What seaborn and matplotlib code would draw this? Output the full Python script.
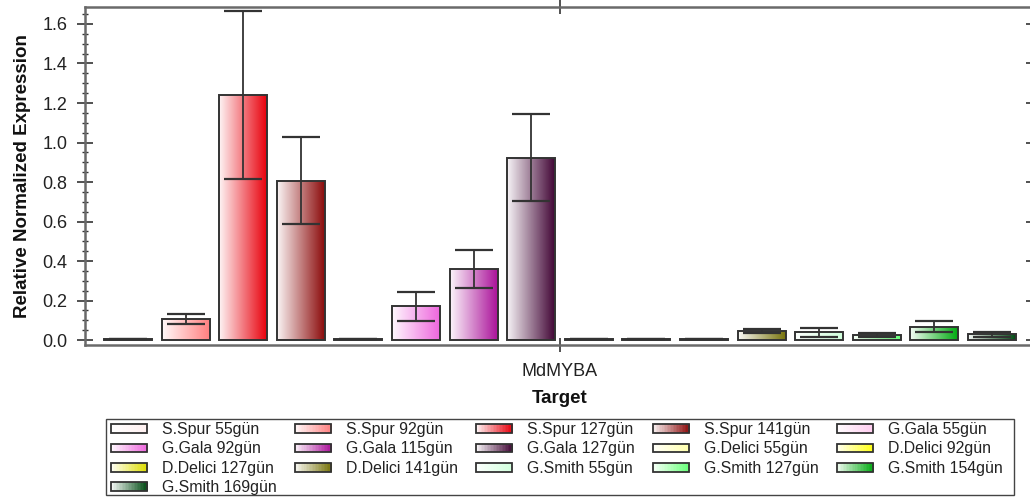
import numpy as np
import pandas as pd
import matplotlib
matplotlib.use("Agg")
import matplotlib.pyplot as plt
import matplotlib.colors as mcolors
from matplotlib.patches import Rectangle, Patch
from matplotlib.legend_handler import HandlerBase
from matplotlib.ticker import MultipleLocator
import seaborn as sns

# ---------------- data ----------------
target = "MdMYBA"
samples = ["S.Spur 55gün", "S.Spur 92gün", "S.Spur 127gün", "S.Spur 141gün",
           "G.Gala 55gün", "G.Gala 92gün", "G.Gala 115gün", "G.Gala 127gün",
           "G.Delici 55gün", "D.Delici 92gün", "D.Delici 127gün", "D.Delici 141gün",
           "G.Smith 55gün", "G.Smith 127gün", "G.Smith 154gün", "G.Smith 169gün"]
values = [0.005, 0.105, 1.240, 0.805,
          0.005, 0.172, 0.358, 0.923,
          0.005, 0.003, 0.005, 0.046,
          0.041, 0.024, 0.067, 0.029]
err_upper = [0.005, 0.132, 1.666, 1.028,
             0.005, 0.243, 0.456, 1.144,
             0.005, 0.003, 0.005, 0.057,
             0.061, 0.037, 0.096, 0.042]
err_lower = [0.005, 0.083, 0.817, 0.587,
             0.005, 0.096, 0.262, 0.702,
             0.005, 0.003, 0.005, 0.034,
             0.017, 0.014, 0.039, 0.015]
colors = ["#fff0f0", "#ff7f7f", "#e8000c", "#8b0a0a",
          "#ffccef", "#ee66dd", "#aa1199", "#420636",
          "#ffffaa", "#ffff10", "#dede00", "#77730a",
          "#d0ffdc", "#66ff77", "#00aa10", "#004a12"]

sns.set_theme(style="white")
plt.rcParams["font.family"] = ["Liberation Sans", "DejaVu Sans"]

fig = plt.figure(figsize=(10.3, 4.97), dpi=100)
ax = fig.add_axes([85 / 1030, (497 - 345) / 497, (1034 - 85) / 1030, (345 - 7) / 497])

df = pd.DataFrame({"Target": [target] * len(samples), "sample": samples, "value": values})
sns.barplot(data=df, x="Target", y="value", hue="sample", hue_order=samples,
            palette=colors, width=0.9, gap=0.167, errorbar=None, legend=False,
            edgecolor="#333333", linewidth=1.4, ax=ax)

XLIM = (-0.464, 0.463)
YLIM = (-0.025, 1.686)

# gradient fill inside each bar
bars = [p for p in ax.patches if isinstance(p, Rectangle)][:len(samples)]
xs = []
for p, c in zip(bars, colors):
    x0, y0 = p.get_x(), p.get_y()
    w, h = p.get_width(), p.get_height()
    xs.append(x0 + w / 2)
    rgb = np.array(mcolors.to_rgb(c))
    t = np.linspace(0.04, 1.0, 256)[:, None]
    grad = (1 - t) * np.ones(3) + t * rgb
    im = ax.imshow(grad[None, :, :], extent=[x0, x0 + w, y0, y0 + h],
                   aspect="auto", interpolation="bilinear", zorder=p.get_zorder() - 0.05)
    im.set_clip_path(p)
    p.set_facecolor("none")

ax.set_xlim(*XLIM)
ax.set_ylim(*YLIM)
ax.set_aspect("auto")

vals = np.array(values)
lo = vals - np.array(err_lower)
hi = np.array(err_upper) - vals
ax.errorbar(xs, vals, yerr=[lo, hi], fmt="none", ecolor="#333333",
            elinewidth=1.3, capsize=13.5, capthick=1.6, zorder=5)

# axes styling
for s in ax.spines.values():
    s.set_color("#6a6a6a")
    s.set_linewidth(1.8)
ax.yaxis.set_major_locator(MultipleLocator(0.2))
ax.yaxis.set_minor_locator(MultipleLocator(0.05))
ax.tick_params(axis="y", which="major", direction="inout", length=11, width=1.2,
               color="#333333", left=True, right=True, labelsize=13, pad=7, labelcolor="#222222")
ax.tick_params(axis="y", which="minor", direction="inout", length=5, width=1.0,
               color="#333333", left=True, right=False)
ax.tick_params(axis="x", which="major", direction="inout", length=10, width=1.2,
               color="#333333", bottom=True, top=True, labelsize=13, pad=8, labelcolor="#222222")
ax.set_yticks(np.arange(0, 1.61, 0.2))
ax.set_yticklabels([f"{v:.1f}" for v in np.arange(0, 1.61, 0.2)])
ax.set_ylabel("Relative Normalized Expression", fontsize=13.5, fontweight="bold",
              color="#111111", labelpad=8)
ax.set_xlabel("Target", fontsize=13.5, fontweight="bold", color="#111111", labelpad=7)
ax.grid(False)


# legend with gradient handles
class GradientHandler(HandlerBase):
    def create_artists(self, legend, orig_handle, xdescent, ydescent, width, height,
                       fontsize, trans):
        rgb = np.array(mcolors.to_rgb(orig_handle.get_facecolor()))
        n = 24
        arts = []
        hh = height * 0.72
        y0 = -ydescent + (height - hh) / 2
        for i in range(n):
            t = 0.04 + 0.96 * (i + 0.5) / n
            col = (1 - t) * np.ones(3) + t * rgb
            r = Rectangle((-xdescent + width * i / n, y0), width / n + 0.3, hh,
                          facecolor=col, edgecolor="none", transform=trans)
            arts.append(r)
        border = Rectangle((-xdescent, y0), width, hh, facecolor="none",
                           edgecolor="#333333", linewidth=1.3, transform=trans)
        arts.append(border)
        return arts


ncol = 5
nrow = int(np.ceil(len(samples) / ncol))
order = [r * ncol + c for c in range(ncol) for r in range(nrow) if r * ncol + c < len(samples)]
handles = [Patch(facecolor=colors[i], label=samples[i]) for i in order]
labels = [samples[i] for i in order]
leg = fig.legend(handles=handles, labels=labels, ncol=ncol, loc="upper left",
                 bbox_to_anchor=(111 / 1030, 0.0, (1003 - 111) / 1030, (497 - 422) / 497),
                 mode="expand", fontsize=11.4, frameon=False,
                 handlelength=2.3, handleheight=0.8,
                 handletextpad=0.95, labelspacing=0.28, borderpad=0.0,
                 borderaxespad=0.0, columnspacing=1.0,
                 handler_map={Patch: GradientHandler()})
for t in leg.get_texts():
    t.set_color("#222222")

# legend frame
fig.patches.append(Rectangle((106 / 1030, (497 - 495) / 497), 908 / 1030, 76 / 497,
                             transform=fig.transFigure, fill=False,
                             edgecolor="#444444", linewidth=1.0, figure=fig))

fig.savefig("out.png", dpi=100, facecolor="white")
